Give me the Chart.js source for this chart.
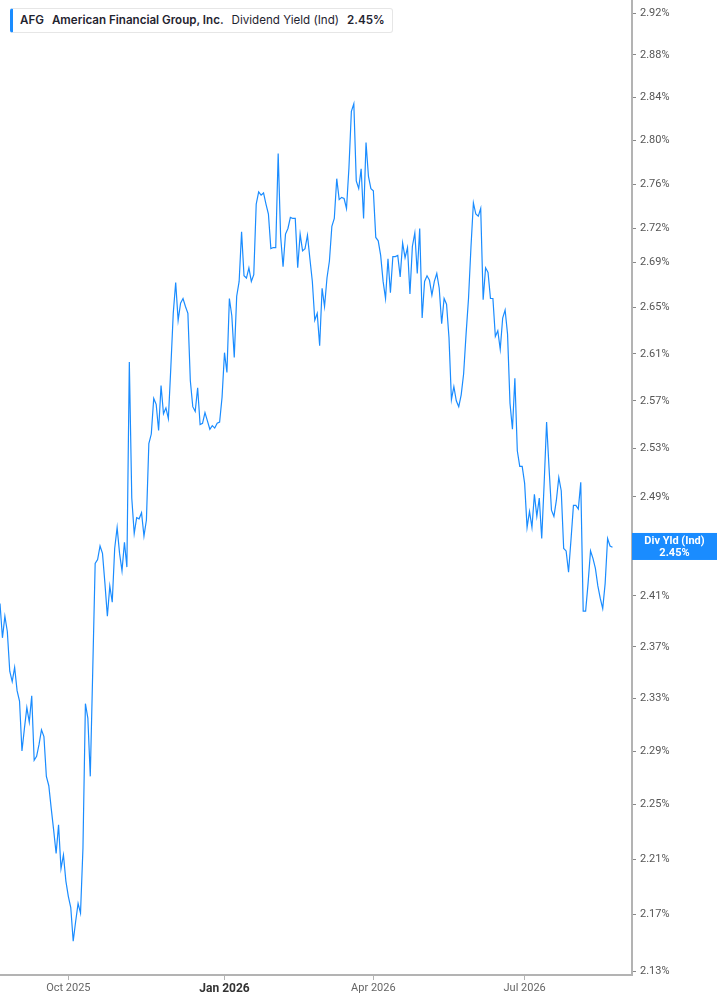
<!DOCTYPE html>
<html>
<head>
<meta charset="utf-8">
<script src="https://cdn.jsdelivr.net/npm/chart.js@4.4.1/dist/chart.umd.min.js"></script>
<style>
html, body { margin: 0; padding: 0; background: #fff; }
#wrap { position: relative; width: 717px; height: 1005px; }
#legend {
    position: absolute; left: 10px; top: 8px; height: 25px;
    box-sizing: border-box; padding: 0 7px 0 7px;
    border: 1px solid #e6e6e6; border-left: 3px solid #1a8cff; border-radius: 3px;
    background: #fff; font-family: Inter, "Noto Sans", sans-serif; font-size: 11.6px;
    color: #1f2430; line-height: 23px; white-space: nowrap;
}
#legend span { margin-right: 8px; }
#legend span:last-child { margin-right: 0; }
#legend .b { font-weight: 600; }
</style>
</head>
<body>
<div id="wrap">
<canvas id="chart" width="717" height="1005"></canvas>
<div id="legend"><span class="b">AFG</span><span class="b">American Financial Group, Inc.</span><span>Dividend Yield (Ind)</span><span class="b">2.45%</span></div>
</div>
<script>
// trading days, first one and the market holidays in the range
const startDate = "2025-08-21";
const holidays = ["2025-09-01", "2025-11-27", "2025-12-25", "2026-01-01", "2026-01-19",
    "2026-02-16", "2026-04-03", "2026-05-25", "2026-06-19", "2026-07-03", "2026-09-07"];
const dayCount = 260;
const quarterMonths = [0, 3, 6, 9];
const monthNames = ["Jan", "Feb", "Mar", "Apr", "May", "Jun", "Jul", "Aug", "Sep", "Oct", "Nov", "Dec"];

// dividend yield (%) per trading day
const yieldValues = [
    2.404, 2.377, 2.394, 2.382, 2.351, 2.343, 2.354, 2.336, 2.328, 2.290,
    2.307, 2.323, 2.312, 2.332, 2.283, 2.286, 2.295, 2.306, 2.301, 2.271,
    2.264, 2.247, 2.231, 2.214, 2.235, 2.203, 2.213, 2.194, 2.183, 2.175,
    2.151, 2.165, 2.178, 2.171, 2.218, 2.326, 2.315, 2.271, 2.351, 2.436,
    2.439, 2.450, 2.444, 2.420, 2.394, 2.418, 2.405, 2.448, 2.465, 2.444,
    2.430, 2.453, 2.433, 2.603, 2.489, 2.460, 2.473, 2.472, 2.477, 2.458,
    2.471, 2.534, 2.542, 2.572, 2.567, 2.545, 2.583, 2.559, 2.564, 2.555,
    2.598, 2.645, 2.672, 2.639, 2.654, 2.658, 2.651, 2.645, 2.587, 2.565,
    2.561, 2.581, 2.550, 2.551, 2.560, 2.553, 2.546, 2.549, 2.547, 2.551,
    2.552, 2.573, 2.611, 2.594, 2.658, 2.643, 2.607, 2.660, 2.673, 2.717,
    2.678, 2.676, 2.685, 2.673, 2.679, 2.742, 2.753, 2.750, 2.752, 2.742,
    2.733, 2.702, 2.703, 2.703, 2.788, 2.713, 2.686, 2.715, 2.720, 2.730,
    2.729, 2.729, 2.685, 2.715, 2.700, 2.702, 2.714, 2.693, 2.673, 2.639,
    2.645, 2.617, 2.667, 2.651, 2.676, 2.691, 2.722, 2.729, 2.765, 2.746,
    2.748, 2.747, 2.738, 2.775, 2.827, 2.834, 2.763, 2.756, 2.774, 2.729,
    2.798, 2.767, 2.756, 2.754, 2.712, 2.709, 2.696, 2.673, 2.658, 2.693,
    2.663, 2.695, 2.695, 2.696, 2.677, 2.707, 2.694, 2.703, 2.662, 2.704,
    2.716, 2.680, 2.720, 2.641, 2.673, 2.678, 2.674, 2.661, 2.673, 2.680,
    2.667, 2.636, 2.658, 2.653, 2.624, 2.571, 2.582, 2.570, 2.565, 2.575,
    2.593, 2.627, 2.658, 2.703, 2.743, 2.733, 2.731, 2.738, 2.657, 2.685,
    2.681, 2.658, 2.658, 2.625, 2.630, 2.614, 2.641, 2.648, 2.627, 2.568,
    2.546, 2.589, 2.528, 2.515, 2.515, 2.501, 2.465, 2.478, 2.465, 2.492,
    2.474, 2.489, 2.456, 2.501, 2.552, 2.514, 2.479, 2.474, 2.487, 2.506,
    2.495, 2.448, 2.446, 2.429, 2.455, 2.483, 2.483, 2.480, 2.502, 2.398,
    2.398, 2.420, 2.446, 2.440, 2.432, 2.418, 2.408, 2.400, 2.420, 2.456,
    2.450, 2.449
];

const yTickValues = [2.13, 2.17, 2.21, 2.25, 2.29, 2.33, 2.37, 2.41, 2.45, 2.49, 2.53,
    2.57, 2.61, 2.65, 2.69, 2.72, 2.76, 2.80, 2.84, 2.88, 2.92];
const yMin = 2.1272;
const yMax = 2.9316;
const currentYield = 2.45;

const lineBlue = "#1a8cff";

function buildDates() {
    const out = [];
    const d = new Date(startDate + "T12:00:00Z");
    while (out.length < dayCount) {
        const iso = d.toISOString().slice(0, 10);
        const wd = d.getUTCDay();
        if (wd !== 0 && wd !== 6 && !holidays.includes(iso)) out.push(iso);
        d.setUTCDate(d.getUTCDate() + 1);
    }
    return out;
}
const dates = buildDates();

function monthLabel(iso) {
    return monthNames[+iso.slice(5, 7) - 1] + " " + iso.slice(0, 4);
}

// quarter starts get a tick
const quarterTicks = [];
dates.forEach((iso, i) => {
    const m = +iso.slice(5, 7) - 1;
    if (i > 0 && dates[i - 1].slice(5, 7) !== iso.slice(5, 7) && quarterMonths.includes(m)) {
        quarterTicks.push(i);
    }
});

const valueBox = {
    id: "valueBox",
    afterDraw(chart) {
        const ctx = chart.ctx;
        const y = chart.scales.y.getPixelForValue(currentYield);
        const x0 = chart.chartArea.right;
        const w = chart.width - x0;
        ctx.save();
        ctx.fillStyle = lineBlue;
        ctx.fillRect(x0, y - 13, w, 27);
        ctx.fillStyle = "#fff";
        ctx.font = "bold 11px Roboto, sans-serif";
        ctx.textAlign = "center";
        ctx.textBaseline = "middle";
        ctx.fillText("Div Yld (Ind)", x0 + w / 2, y - 5);
        ctx.fillText(currentYield.toFixed(2) + "%", x0 + w / 2, y + 7);
        ctx.restore();
    }
};

new Chart(document.getElementById("chart"), {
    type: "line",
    data: {
        labels: dates,
        datasets: [{
            data: yieldValues,
            borderColor: lineBlue,
            borderWidth: 1.2,
            pointRadius: 0,
            tension: 0
        }]
    },
    options: {
        responsive: false,
        animation: false,
        layout: { padding: { top: 1, left: 0, right: 0, bottom: 0 } },
        plugins: { legend: { display: false }, tooltip: { enabled: false } },
        scales: {
            x: {
                type: "category",
                offset: false,
                border: { color: "#b3b3b3", width: 2 },
                grid: { drawOnChartArea: false, tickLength: 5, color: "#b3b3b3" },
                ticks: {
                    autoSkip: false,
                    maxRotation: 0,
                    padding: 2,
                    color: ctx => ctx.tick && ctx.tick.label === "Jan 2026" ? "#333" : "#666",
                    font: ctx => ({
                        family: "Roboto, sans-serif",
                        size: ctx.tick && ctx.tick.label === "Jan 2026" ? 12 : 11,
                        weight: ctx.tick && ctx.tick.label === "Jan 2026" ? "bold" : "normal"
                    }),
                    callback: function (v) { return monthLabel(this.getLabelForValue(v)); }
                },
                afterBuildTicks: s => { s.ticks = quarterTicks.map(i => ({ value: i })); },
                afterFit: s => { s.height = 30; s.paddingLeft = 0; s.paddingRight = 0; }
            },
            y: {
                type: "logarithmic",
                position: "right",
                min: yMin,
                max: yMax,
                border: { color: "#b3b3b3", width: 2 },
                grid: { drawOnChartArea: false, tickLength: 4, color: "#888" },
                ticks: {
                    padding: 4,
                    color: "#555",
                    font: { family: "Roboto, sans-serif", size: 11 },
                    callback: v => Number(v).toFixed(2) + "%"
                },
                afterBuildTicks: s => { s.ticks = yTickValues.map(v => ({ value: v })); },
                afterFit: s => { s.width = 85; s.paddingTop = 0; s.paddingBottom = 0; }
            }
        }
    },
    plugins: [valueBox]
});
</script>
</body>
</html>
